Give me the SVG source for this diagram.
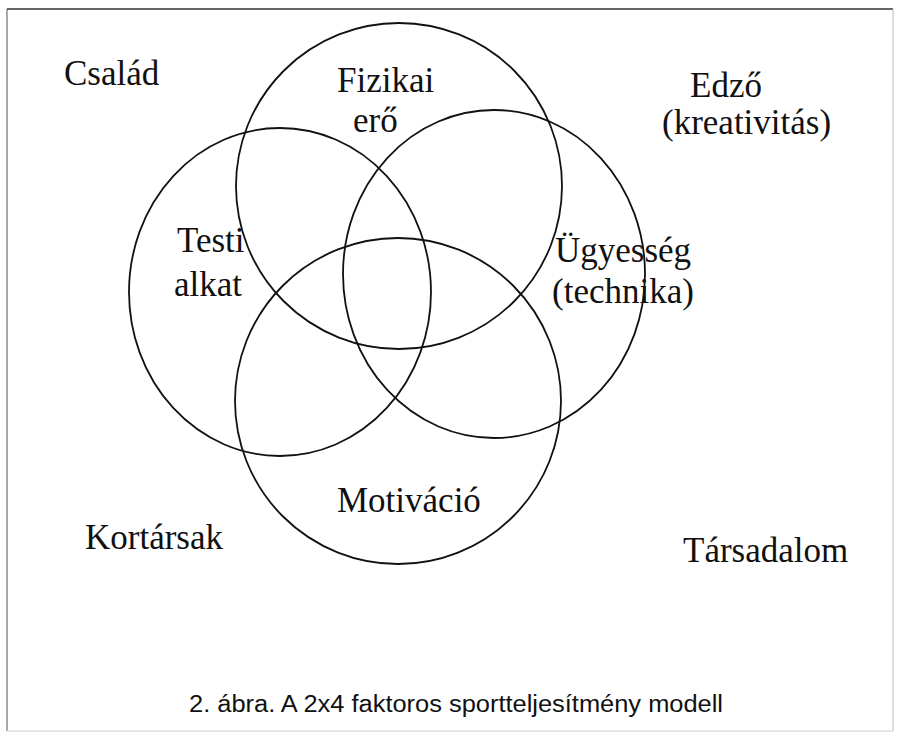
<svg xmlns="http://www.w3.org/2000/svg" width="897" height="735" viewBox="0 0 897 735">
<style>
.ring{fill:none;stroke:#111;stroke-width:1.8}
.lbl{font-family:"Liberation Serif","Times New Roman",serif;font-size:35px;fill:#111}
.cap{font-family:"Liberation Sans",Arial,sans-serif;font-size:23px;fill:#111}
</style>
<rect width="897" height="735" fill="#fff"/>
<g id="frame" fill="none">
<line x1="7" y1="9" x2="893" y2="9" stroke="#333" stroke-width="1.3"/>
<line x1="7" y1="9" x2="7" y2="731" stroke="#555" stroke-width="1"/>
<line x1="893" y1="9" x2="893" y2="731" stroke="#bbb" stroke-width="1"/>
<line x1="7" y1="731" x2="893" y2="731" stroke="#ccc" stroke-width="1"/>
</g>
<g id="connectors"></g>
<g id="fizikai-ero">
<circle class="ring" cx="399" cy="186" r="163"/>
<text class="lbl" x="337" y="92">Fizikai</text>
<text class="lbl" x="353" y="132">erő</text>
</g>
<g id="testi-alkat">
<ellipse class="ring" cx="280" cy="292" rx="151" ry="164"/>
<text class="lbl" x="177" y="252">Testi</text>
<text class="lbl" x="174" y="296">alkat</text>
</g>
<g id="ugyesseg">
<ellipse class="ring" cx="494" cy="274" rx="151" ry="164"/>
<text class="lbl" x="555" y="262">Ügyesség</text>
<text class="lbl" x="552" y="303">(technika)</text>
</g>
<g id="motivacio">
<circle class="ring" cx="398" cy="401" r="163"/>
<text class="lbl" x="337" y="512">Motiváció</text>
</g>
<g id="csalad"><text class="lbl" x="64" y="85">Család</text></g>
<g id="edzo">
<text class="lbl" x="690" y="97">Edző</text>
<text class="lbl" x="662" y="134">(kreativitás)</text>
</g>
<g id="kortarsak"><text class="lbl" x="85" y="549">Kortársak</text></g>
<g id="tarsadalom"><text class="lbl" x="683" y="562">Társadalom</text></g>
<g id="caption"><text class="cap" x="189" y="712" textLength="534" lengthAdjust="spacingAndGlyphs">2. ábra. A 2x4 faktoros sportteljesítmény modell</text></g>
</svg>
